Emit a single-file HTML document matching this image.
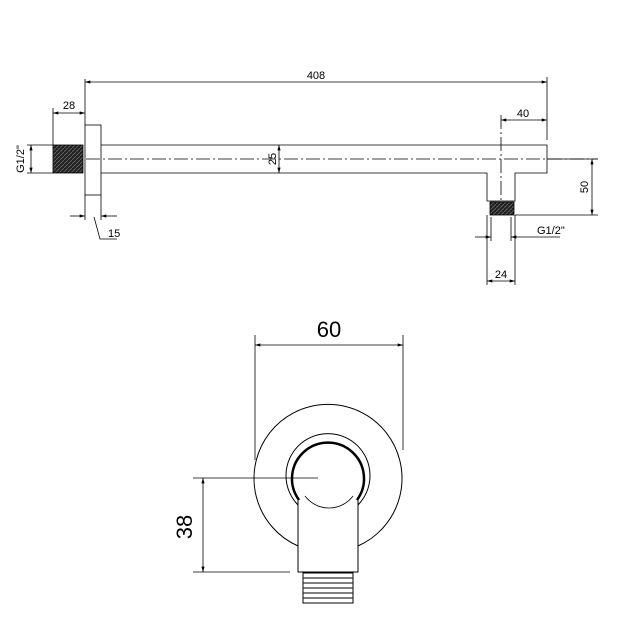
<!DOCTYPE html>
<html><head><style>body{margin:0;background:#fff}svg{display:block}</style></head><body>
<svg width="620" height="620" viewBox="0 0 620 620" xmlns="http://www.w3.org/2000/svg" font-family="Liberation Sans, Arial, sans-serif">
<defs>
<marker id="a" viewBox="0 0 10 6" refX="10" refY="3" markerWidth="8" markerHeight="4" orient="auto-start-reverse"><path d="M0,0L10,3L0,6z" fill="#000"/></marker>
<pattern id="th" width="4" height="4" patternUnits="userSpaceOnUse"><rect width="4" height="4" fill="#222"/><line x1="0" y1="4" x2="4" y2="0" stroke="#666" stroke-width="0.8"/></pattern>
</defs>
<g stroke="#000" stroke-width="0.8" fill="none">
<line x1="85" y1="82" x2="547" y2="82" marker-start="url(#a)" marker-end="url(#a)"/>
<line x1="85" y1="79" x2="85" y2="125"/>
<line x1="547" y1="77" x2="547" y2="140"/>
<rect x="85" y="125" width="16" height="70" fill="#fff"/>
<path d="M101,145H547V173H515V201H487V173H101"/>
<line x1="86" y1="159" x2="598" y2="159" stroke-dasharray="14,3,2,3"/>
<line x1="501" y1="115" x2="501" y2="200" stroke-dasharray="14,3,2,3"/>
<rect x="53" y="145" width="30" height="28" fill="url(#th)"/>
<rect x="490" y="202" width="24" height="13" fill="url(#th)"/>
<line x1="501" y1="120" x2="547" y2="120" marker-start="url(#a)" marker-end="url(#a)"/>
<line x1="547" y1="159" x2="598" y2="159"/>
<line x1="515" y1="215" x2="598" y2="215"/>
<line x1="592" y1="159" x2="592" y2="215" marker-start="url(#a)" marker-end="url(#a)"/>
<line x1="491" y1="217" x2="491" y2="241"/><line x1="511" y1="217" x2="511" y2="241"/>
<line x1="475" y1="237" x2="491" y2="237" marker-end="url(#a)"/>
<line x1="511" y1="237" x2="560" y2="237" marker-start="url(#a)"/>
<line x1="487" y1="215" x2="487" y2="285"/><line x1="515" y1="215" x2="515" y2="285"/>
<line x1="487" y1="281" x2="515" y2="281" marker-start="url(#a)" marker-end="url(#a)"/>
<line x1="53" y1="108" x2="53" y2="145"/>
<line x1="53" y1="113" x2="85" y2="113" marker-start="url(#a)" marker-end="url(#a)"/>
<line x1="27" y1="145" x2="53" y2="145"/><line x1="27" y1="173" x2="53" y2="173"/>
<line x1="31" y1="145" x2="31" y2="173" marker-start="url(#a)" marker-end="url(#a)"/>
<line x1="279" y1="145" x2="279" y2="173" marker-start="url(#a)" marker-end="url(#a)"/>
<line x1="85" y1="195" x2="85" y2="220"/><line x1="101" y1="195" x2="101" y2="220"/>
<line x1="70" y1="216" x2="85" y2="216" marker-end="url(#a)"/>
<line x1="117" y1="216" x2="101" y2="216" marker-end="url(#a)"/>
<path d="M94,217L100,239H117"/>
<!-- bottom view -->
<line x1="255" y1="335" x2="255" y2="460"/><line x1="403" y1="335" x2="403" y2="450"/>
<line x1="255" y1="345" x2="403" y2="345" marker-start="url(#a)" marker-end="url(#a)"/>
<path d="M298,546A74,74 0 1 1 358,546" stroke-width="1"/>
<path d="M298,505A42,42 0 1 1 358,505" stroke-width="1"/>
<path d="M299,500A36,36 0 1 1 357,500" stroke-width="2.5"/>
<path d="M305,496A30,30 0 0 0 353,496" stroke-width="0.8"/>
<path d="M298,497V572H358V497" stroke-width="1"/>
<rect x="303" y="573" width="50" height="30" fill="#fff" stroke-width="1"/>
<g stroke="#333" stroke-width="1.2"><line x1="303" y1="578" x2="353" y2="578"/><line x1="303" y1="583" x2="353" y2="583"/><line x1="303" y1="588" x2="353" y2="588"/><line x1="303" y1="593" x2="353" y2="593"/><line x1="303" y1="598" x2="353" y2="598"/></g>
<line x1="193" y1="478" x2="318" y2="478"/>
<line x1="193" y1="572" x2="290" y2="572"/>
<line x1="203" y1="478" x2="203" y2="572" marker-start="url(#a)" marker-end="url(#a)"/>
</g>
<g font-size="11" fill="#000">
<text x="316" y="79" text-anchor="middle">408</text>
<text x="69" y="109" text-anchor="middle">28</text>
<text x="523" y="117" text-anchor="middle">40</text>
<text x="108" y="237">15</text>
<text x="537" y="234">G1/2"</text>
<text x="501" y="278" text-anchor="middle">24</text>
<text transform="translate(24,159) rotate(-90)" text-anchor="middle">G1/2"</text>
<text transform="translate(276,159) rotate(-90)" text-anchor="middle">25</text>
<text transform="translate(588,187) rotate(-90)" text-anchor="middle">50</text>
</g>
<text x="329" y="337" font-size="22" text-anchor="middle">60</text>
<text transform="translate(192,527) rotate(-90)" font-size="22" text-anchor="middle">38</text>
</svg>
</body></html>
